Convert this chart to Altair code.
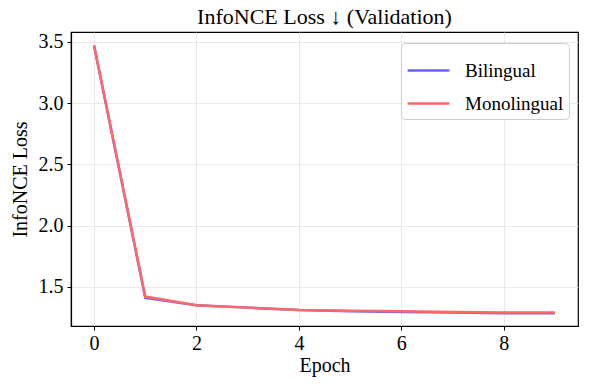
import altair as alt
import pandas as pd

epochs = [0, 1, 2, 3, 4, 5, 6, 7, 8, 9]
bilingual = [3.47, 1.41, 1.35, 1.33, 1.31, 1.30, 1.295, 1.29, 1.285, 1.285]
monolingual = [3.47, 1.42, 1.35, 1.33, 1.31, 1.305, 1.30, 1.295, 1.29, 1.29]
series_names = ["Bilingual", "Monolingual"]
series_colors = ["#6666ff", "#ff6666"]

rows = []
for i, e in enumerate(epochs):
    rows.append({"Epoch": e, "Loss": bilingual[i], "Series": "Bilingual", "ord": 0})
    rows.append({"Epoch": e, "Loss": monolingual[i], "Series": "Monolingual", "ord": 1})
df = pd.DataFrame(rows)

font = "Liberation Serif"

chart = alt.Chart(df).mark_line(strokeWidth=2.5).encode(
    x=alt.X("Epoch:Q", scale=alt.Scale(domain=[-0.45, 9.45], nice=False, zero=False),
            axis=alt.Axis(values=[0, 2, 4, 6, 8], title="Epoch", format="d")),
    y=alt.Y("Loss:Q", scale=alt.Scale(domain=[1.18, 3.58], nice=False, zero=False),
            axis=alt.Axis(values=[1.5, 2.0, 2.5, 3.0, 3.5], format=".1f", title="InfoNCE Loss")),
    color=alt.Color("Series:N", scale=alt.Scale(domain=series_names, range=series_colors),
                    legend=alt.Legend(title=None, orient="none", legendX=330, legendY=11,
                                      symbolType="M-1,0H1", symbolStrokeWidth=2.5, symbolSize=1750,
                                      labelFontSize=19, labelFont=font, rowPadding=-4,
                                      strokeColor="#cccccc", cornerRadius=4, padding=5,
                                      fillColor="white", labelOffset=14)),
    order=alt.Order("ord:Q"),
).properties(
    width=507, height=294,
    title=alt.TitleParams("InfoNCE Loss ↓ (Validation)", font=font, fontSize=22, fontWeight="normal",
                          color="black", offset=3),
    autosize=alt.AutoSizeParams(type="none"),
    padding={"left": 63, "top": 24, "right": 4, "bottom": 64},
).configure(
    font=font
).configure_axis(
    labelFont=font, titleFont=font, labelFontSize=20, titleFontSize=20,
    titleFontWeight="normal", labelColor="black", titleColor="black",
    domainColor="black", domainWidth=1.2, tickColor="black", tickSize=4,
    gridColor="#e3e3e3", gridWidth=0.8,
).configure_legend(
    labelFont=font
).configure_axisX(titlePadding=2, labelPadding=3).configure_axisY(titlePadding=8, labelPadding=4).configure_view(
    stroke="black", strokeWidth=1.2
)

chart.save("out.html", embed_options={"renderer": "svg", "actions": False})
